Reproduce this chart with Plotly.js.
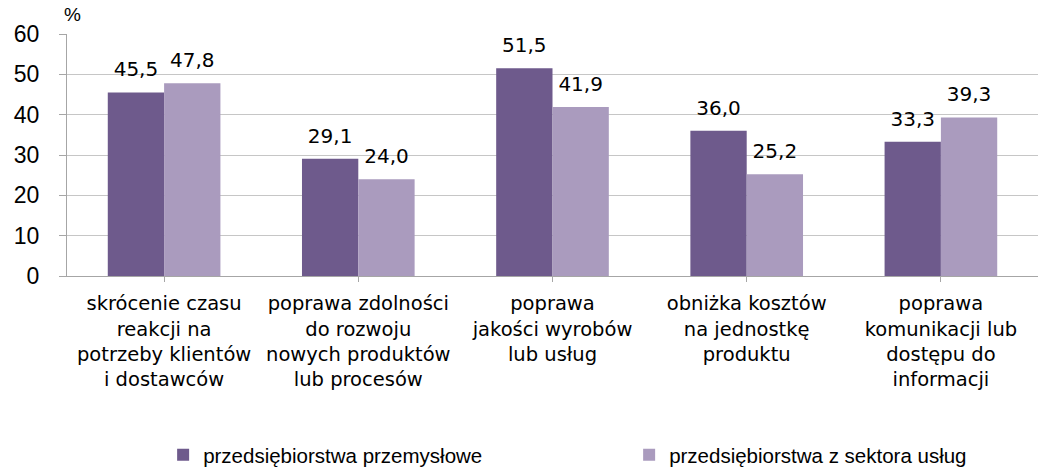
<!DOCTYPE html>
<html>
<head>
<meta charset="utf-8">
<script src="https://cdn.plot.ly/plotly-3.0.1.min.js"></script>
<style>
html,body{margin:0;padding:0;background:#fff;}
#chart{width:1039px;height:470px;}
</style>
</head>
<body>
<div id="chart"></div>
<script>
const categories = [
  "skrócenie czasu<br>reakcji na<br>potrzeby klientów<br>i dostawców",
  "poprawa zdolności<br>do rozwoju<br>nowych produktów<br>lub procesów",
  "poprawa<br>jakości wyrobów<br>lub usług",
  "obniżka kosztów<br>na jednostkę<br>produktu",
  "poprawa<br>komunikacji lub<br>dostępu do<br>informacji"
];
const seriesNames = ["przedsiębiorstwa przemysłowe", "przedsiębiorstwa z sektora usług"];
const industry = [45.5, 29.1, 51.5, 36.0, 33.3];
const services = [47.8, 24.0, 41.9, 25.2, 39.3];
const yTicks = [0, 10, 20, 30, 40, 50, 60];

const fmt = v => v.toFixed(1).replace('.', ',');
const colors = ["#6e5a8c", "#aa9bbe"];
const catIdx = categories.map((_, i) => i);
const GAP = 0.42;

const barTraces = [industry, services].map((vals, k) => ({
  type: 'bar',
  name: seriesNames[k],
  x: catIdx,
  y: vals,
  marker: {color: colors[k]},
  hoverinfo: 'skip'
}));

const labelTraces = [industry, services].map((vals, k) => ({
  type: 'scatter',
  mode: 'markers+text',
  showlegend: false,
  x: catIdx,
  y: vals,
  text: vals.map(fmt),
  textposition: 'top center',
  cliponaxis: false,
  marker: {size: 16, opacity: 0, color: colors[k]},
  textfont: {family: 'DejaVu Sans', size: 20, color: '#000'},
  hoverinfo: 'skip'
}));

const layout = {
  width: 1039, height: 470,
  margin: {l: 67, r: 1, t: 34, b: 194, autoexpand: false},
  paper_bgcolor: '#fff', plot_bgcolor: '#fff',
  barmode: 'group',
  bargap: GAP,
  bargroupgap: 0,
  scattermode: 'group',
  scattergap: GAP,
  showlegend: true,
  legend: {
    orientation: 'h',
    x: 0.099, xanchor: 'left',
    y: -0.657, yanchor: 'top',
    entrywidth: 421,
    font: {family: 'Liberation Sans', size: 20.5, color: '#000'},
    traceorder: 'normal'
  },
  xaxis: {
    tickvals: catIdx,
    ticktext: categories,
    range: [-0.5, categories.length - 0.5],
    tickson: 'boundaries',
    ticks: 'outside', ticklen: 5, tickcolor: '#a6a6a6',
    ticklabelstandoff: 5,
    showline: true, linecolor: '#a6a6a6', linewidth: 1,
    showgrid: false, zeroline: false,
    tickangle: 0,
    tickfont: {family: 'DejaVu Sans', size: 19.5, color: '#000'},
    fixedrange: true
  },
  yaxis: {
    range: [0, 60],
    tickvals: yTicks,
    ticktext: yTicks.map(String),
    ticks: 'outside', ticklen: 7, tickcolor: '#a6a6a6',
    ticklabelstandoff: 15,
    showline: true, linecolor: '#a6a6a6', linewidth: 1,
    showgrid: true, gridcolor: '#c6c6c6', gridwidth: 1,
    zeroline: false,
    tickfont: {family: 'Liberation Sans', size: 23, color: '#000'},
    fixedrange: true
  },
  annotations: [{
    text: '%', xref: 'paper', yref: 'paper', x: 0, y: 1,
    xanchor: 'center', yanchor: 'bottom', yshift: 7, xshift: 5, showarrow: false,
    font: {family: 'Liberation Sans', size: 19, color: '#000'}
  }]
};

Plotly.newPlot('chart', barTraces.concat(labelTraces), layout, {displayModeBar: false, staticPlot: true});
</script>
</body>
</html>
